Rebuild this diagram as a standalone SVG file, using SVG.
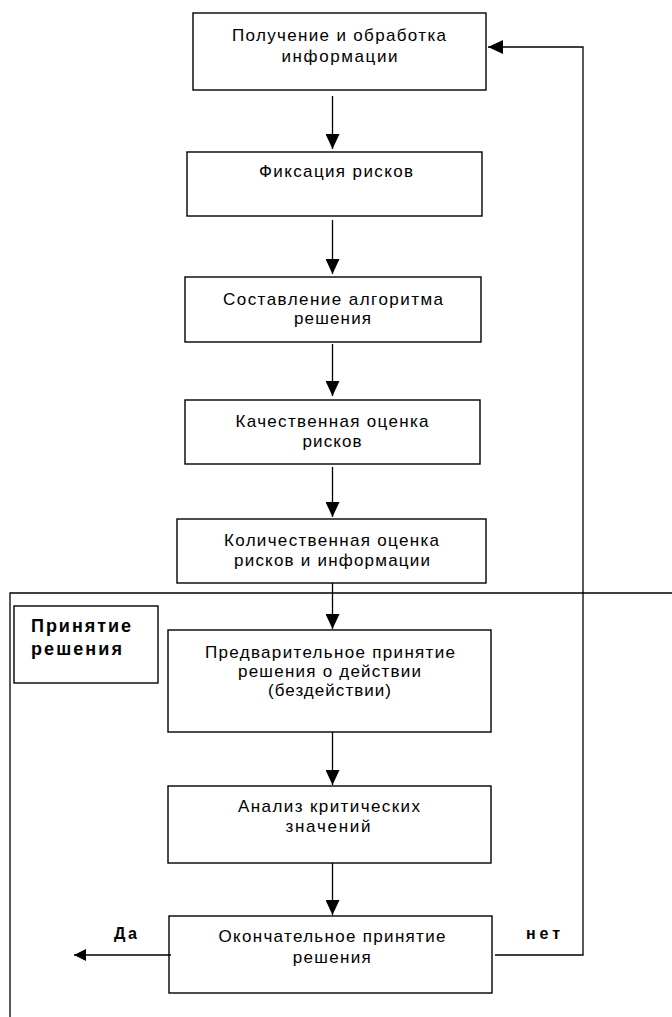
<svg xmlns="http://www.w3.org/2000/svg" width="672" height="1017" viewBox="0 0 672 1017">
<style>
  .box { fill: #fff; stroke: #000; stroke-width: 1.4; }
  .ln { fill: none; stroke: #000; stroke-width: 1.3; }
  .t { font-family: "Liberation Sans", Arial, sans-serif; font-size: 17px; fill: #000; text-anchor: middle; }
  .b { font-family: "Liberation Sans", Arial, sans-serif; font-size: 18px; font-weight: bold; fill: #000; }
  .s { font-family: "Liberation Sans", Arial, sans-serif; font-size: 16px; font-weight: bold; fill: #000; }
</style>
<defs>
  <marker id="arr" viewBox="0 0 15 14" refX="15" refY="7" markerWidth="15" markerHeight="14" markerUnits="userSpaceOnUse" orient="auto">
    <path d="M0,0 L15,7 L0,14 Z" fill="#000"/>
  </marker>
  <marker id="arrS" viewBox="0 0 12 12" refX="12" refY="6" markerWidth="12" markerHeight="12" markerUnits="userSpaceOnUse" orient="auto">
    <path d="M0,0 L12,6 L0,12 Z" fill="#000"/>
  </marker>
</defs>
<rect width="672" height="1017" fill="#fff"/>

<g id="frame">
  <path class="ln" d="M10,1017 L10,593 L672,593"/>
</g>

<g id="n1">
  <rect class="box" x="193" y="13" width="293" height="77"/>
  <text class="t" x="339" y="41" textLength="214" lengthAdjust="spacing">Получение и обработка</text>
  <text class="t" x="339.5" y="62" textLength="116" lengthAdjust="spacing">информации</text>
</g>
<g id="n2">
  <rect class="box" x="187" y="152" width="295" height="64"/>
  <text class="t" x="336" y="177" textLength="154" lengthAdjust="spacing">Фиксация рисков</text>
</g>
<g id="n3">
  <rect class="box" x="185" y="277" width="296" height="65"/>
  <text class="t" x="333" y="305" textLength="220" lengthAdjust="spacing">Составление алгоритма</text>
  <text class="t" x="332.5" y="324" textLength="77" lengthAdjust="spacing">решения</text>
</g>
<g id="n4">
  <rect class="box" x="185" y="400" width="295" height="64"/>
  <text class="t" x="332" y="427" textLength="193" lengthAdjust="spacing">Качественная оценка</text>
  <text class="t" x="332" y="447" textLength="59" lengthAdjust="spacing">рисков</text>
</g>
<g id="n5">
  <rect class="box" x="177" y="519" width="309" height="64"/>
  <text class="t" x="331.5" y="546" textLength="215" lengthAdjust="spacing">Количественная оценка</text>
  <text class="t" x="332" y="566" textLength="196" lengthAdjust="spacing">рисков и информации</text>
</g>
<g id="label">
  <rect class="box" x="14" y="606" width="144" height="77"/>
  <text class="b" x="31" y="632" textLength="100" lengthAdjust="spacing">Принятие</text>
  <text class="b" x="31" y="655" textLength="91" lengthAdjust="spacing">решения</text>
</g>
<g id="n6">
  <rect class="box" x="168" y="630" width="323" height="102"/>
  <text class="t" x="330" y="658" textLength="250" lengthAdjust="spacing">Предварительное принятие</text>
  <text class="t" x="329.5" y="677" textLength="183" lengthAdjust="spacing">решения о действии</text>
  <text class="t" x="329.5" y="696" textLength="123" lengthAdjust="spacing">(бездействии)</text>
</g>
<g id="n7">
  <rect class="box" x="168" y="786" width="323" height="77"/>
  <text class="t" x="329" y="812" textLength="182" lengthAdjust="spacing">Анализ критических</text>
  <text class="t" x="328" y="832" textLength="85" lengthAdjust="spacing">значений</text>
</g>
<g id="n8">
  <rect class="box" x="169" y="916" width="323" height="77"/>
  <text class="t" x="332" y="942" textLength="227" lengthAdjust="spacing">Окончательное принятие</text>
  <text class="t" x="331.7" y="963" textLength="78" lengthAdjust="spacing">решения</text>
</g>

<g id="connectors">
  <line class="ln" x1="332.5" y1="96" x2="332.5" y2="149" marker-end="url(#arr)"/>
  <line class="ln" x1="332.5" y1="220" x2="332.5" y2="274" marker-end="url(#arr)"/>
  <line class="ln" x1="332.5" y1="344" x2="332.5" y2="396" marker-end="url(#arr)"/>
  <line class="ln" x1="332.5" y1="467" x2="332.5" y2="517" marker-end="url(#arr)"/>
  <line class="ln" x1="332.5" y1="583" x2="332.5" y2="629" marker-end="url(#arr)"/>
  <line class="ln" x1="332.5" y1="732" x2="332.5" y2="785" marker-end="url(#arr)"/>
  <line class="ln" x1="332.5" y1="863" x2="332.5" y2="915" marker-end="url(#arr)"/>
  <path class="ln" d="M495,955 L583,955 L583,47 L488,47" marker-end="url(#arr)"/>
  <line class="ln" x1="171" y1="955" x2="74" y2="955" marker-end="url(#arrS)"/>
  <text class="s" x="114" y="939" textLength="23" lengthAdjust="spacing">Да</text>
  <text class="s" x="526" y="939" textLength="34" lengthAdjust="spacing">нет</text>
</g>
</svg>
